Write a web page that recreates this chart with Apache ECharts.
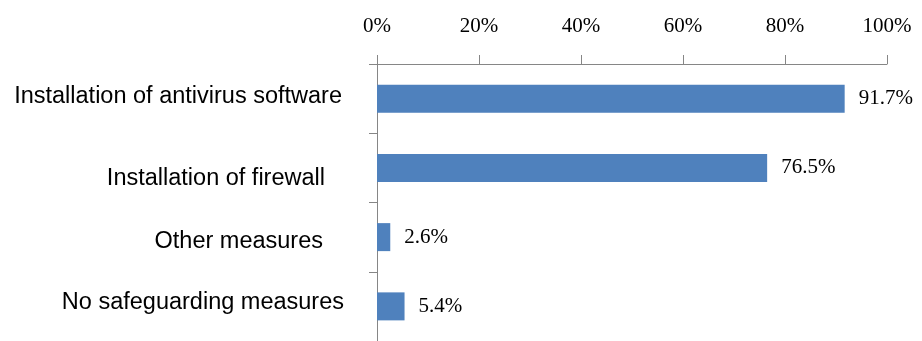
<!DOCTYPE html>
<html>
<head>
<meta charset="utf-8">
<script src="https://cdn.jsdelivr.net/npm/echarts@6/dist/echarts.min.js"></script>
<style>
html,body{margin:0;padding:0;background:#fff;}
#chart{width:922px;height:341px;}
</style>
</head>
<body>
<div id="chart"></div>
<script>
var categories = ['Installation of antivirus software', 'Installation of firewall', 'Other measures', 'No safeguarding measures'];
var values = [91.7, 76.5, 2.6, 5.4];
var tickMin = 0, tickMax = 100, tickStep = 20;

var labelPads = [[0, 2, 4, 0], [22, 19, 0, 0], [9, 21, 0, 0], [0, 0, 8, 0]];
var rich = {};
labelPads.forEach(function (p, i) {
  rich['c' + i] = { fontFamily: 'Liberation Sans, Arial, sans-serif', fontSize: 23.5, color: '#000', padding: p };
});

var chart = echarts.init(document.getElementById('chart'));
chart.setOption({
  animation: false,
  backgroundColor: '#fff',
  grid: { left: 377, top: 64, width: 510, height: 282.5, containLabel: false },
  xAxis: {
    type: 'value', position: 'top', min: tickMin, max: tickMax, interval: tickStep,
    axisLine: { show: true, lineStyle: { color: '#868686', width: 1 } },
    axisTick: { show: true, length: 9, lineStyle: { color: '#868686' } },
    splitLine: { show: false },
    axisLabel: { formatter: '{value}%', margin: 27, fontFamily: 'Liberation Serif, serif', fontSize: 21, color: '#000' }
  },
  yAxis: {
    type: 'category', inverse: true, data: categories,
    axisLine: { show: true, lineStyle: { color: '#868686', width: 1 } },
    axisTick: { show: true, length: 8, lineStyle: { color: '#868686' } },
    axisLabel: {
      margin: 33,
      formatter: function (v, i) { return '{c' + i + '|' + v + '}'; },
      rich: rich
    }
  },
  series: [{
    type: 'bar', data: values, barWidth: 28,
    itemStyle: { color: '#4F81BD' },
    label: {
      show: true, position: 'right', distance: 14,
      formatter: function (p) { return p.value.toFixed(1) + '%'; },
      fontFamily: 'Liberation Serif, serif', fontSize: 21, color: '#000'
    }
  }]
});
</script>
</body>
</html>
